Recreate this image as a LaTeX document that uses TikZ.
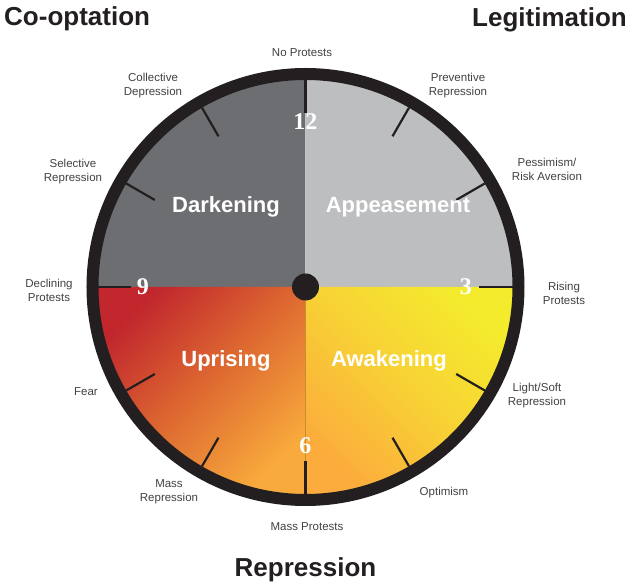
\documentclass[tikz,border=0pt]{standalone}
\usepackage{fontspec}
\setmainfont{Liberation Sans}
\newfontfamily\numfont{Liberation Serif}

\definecolor{ink}{HTML}{231F20}
\definecolor{labelgray}{HTML}{414042}
\definecolor{darkq}{HTML}{6D6E71}
\definecolor{lightq}{HTML}{BCBEC0}
\definecolor{uprisetop}{HTML}{C1272D}
\definecolor{uprisemid}{HTML}{DE6A31}
\definecolor{uprisebot}{HTML}{F8AA3C}
\definecolor{waketop}{HTML}{F4EB2D}
\definecolor{wakemid}{HTML}{F8D135}
\definecolor{wakebot}{HTML}{FBAC3C}
\definecolor{seam}{HTML}{C98E2C}

\begin{document}
\begin{tikzpicture}[x=1pt,y=1pt]
  \tikzstyle{clockmark}=[ink, line width=2.2pt]
  \tikzstyle{phase}=[white, font=\fontsize{22}{22}\selectfont\bfseries, anchor=base, inner sep=0pt]
  \tikzstyle{hour}=[white, font=\numfont\fontsize{24}{24}\selectfont\bfseries, inner sep=0pt]
  \tikzstyle{mood}=[labelgray, font=\fontsize{11.5}{14}\selectfont, align=center, inner sep=0pt]
  \tikzstyle{regime}=[ink, font=\fontsize{26}{26}\selectfont\bfseries, inner sep=0pt]

  \useasboundingbox (-305.5,-301) rectangle (324.5,287);

  % the four quarters of the dial
  \fill[darkq]  (0,0) -- (90:208) arc[start angle=90, end angle=180, radius=208] -- cycle;
  \fill[lightq] (0,0) -- (0:208) arc[start angle=0, end angle=90, radius=208] -- cycle;
  \shade[top color=uprisetop, bottom color=uprisebot, middle color=uprisemid, shading angle=45]
    (0,0) -- (180:208) arc[start angle=180, end angle=270, radius=208] -- cycle;
  \shade[top color=waketop, bottom color=wakebot, middle color=wakemid, shading angle=-45]
    (0,0) -- (270:208) arc[start angle=270, end angle=360, radius=208] -- cycle;
  \draw[seam, line width=0.6pt] (0,0) -- (0,-207);

  \foreach \a in {0,30,...,330}
    \draw[clockmark] (\a:207) -- (\a:174);

  \draw[ink, line width=12pt] (0,0) circle (213);
  \fill[ink] (0,0) circle (13.5);

  \node[hour] (h12) at (0,165)    {12};
  \node[hour] (h3)  at (160.5,0)  {3};
  \node[hour] (h6)  at (0,-159)   {6};
  \node[hour] (h9)  at (-162.5,0) {9};

  \node[phase] (dark)  at (-79.5,74) {Darkening};
  \node[phase] (appe)  at (92.5,74)  {Appeasement};
  \node[phase] (upri)  at (-79.5,-80) {Uprising};
  \node[phase] (awak)  at (83.5,-80) {Awakening};

  % states round the dial
  \node[mood] (noprot)   at (-3.5,234)   {No Protests};
  \node[mood] (prevrep)  at (152.5,201)  {Preventive\\Repression};
  \node[mood] (pessim)   at (241.5,118)  {Pessimism/\\Risk Aversion};
  \node[mood] (riseprot) at (258.5,-6)   {Rising\\Protests};
  \node[mood] (softrep)  at (231.5,-109) {Light/Soft\\Repression};
  \node[mood] (optim)    at (138.5,-206) {Optimism};
  \node[mood] (massprot) at (1.5,-240)   {Mass Protests};
  \node[mood] (massrep)  at (-136.5,-205) {Mass\\Repression};
  \node[mood] (fear)     at (-219.5,-105) {Fear};
  \node[mood] (declprot) at (-256.5,-3)  {Declining\\Protests};
  \node[mood] (selrep)   at (-232.5,115) {Selective\\Repression};
  \node[mood] (colldep)  at (-152.5,201) {Collective\\Depression};

  \node[regime, anchor=base west] (coopt) at (-301.5,261) {Co-optation};
  \node[regime, anchor=base east] (legit) at (321.5,260)  {Legitimation};
  \node[regime, anchor=base]      (repr)  at (0,-290)     {Repression};
\end{tikzpicture}
\end{document}
